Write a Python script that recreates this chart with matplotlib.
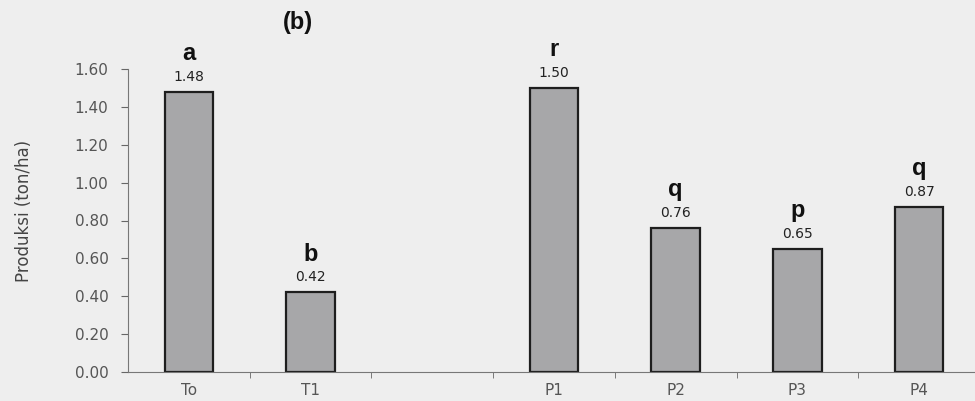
import numpy as np
import matplotlib.pyplot as plt

# Produksi per perlakuan (ton/ha)
categories = ["To", "T1", "", "P1", "P2", "P3", "P4"]
produksi = [1.48, 0.42, np.nan, 1.50, 0.76, 0.65, 0.87]
notasi = ["a", "b", "", "r", "q", "p", "q"]
yticks = [0.0, 0.2, 0.4, 0.6, 0.8, 1.0, 1.2, 1.4, 1.6]

plt.rcParams['font.family'] = ['DejaVu Sans']

fig = plt.figure(figsize=(9.75, 4.01), dpi=100, facecolor='#eeeeee')
ax = fig.add_axes([128 / 975, 29 / 401, 852 / 975, 303 / 401])
ax.set_facecolor('none')

x = np.arange(len(categories))
ax.bar(x, produksi, width=0.4, color='#a7a7a9', edgecolor='#1e1e1e', linewidth=1.6)

for xi, v, n in zip(x, produksi, notasi):
    if np.isnan(v):
        continue
    ax.annotate(f"{v:.2f}", (xi, v), xytext=(0, 8), textcoords='offset points',
                ha='center', va='baseline', fontsize=10, color='#222222')
    ax.annotate(n, (xi, v), xytext=(0, 23), textcoords='offset points',
                ha='center', va='baseline', fontsize=17, fontweight='bold',
                family='Liberation Sans', color='#111111')

ax.set_xlim(-0.5, len(categories) - 0.5)
ax.set_ylim(0, 1.6)
ax.set_yticks(yticks)
ax.set_yticklabels([f"{t:.2f}" for t in yticks], fontsize=11, color='#555555')
ax.set_xticks(x)
ax.set_xticklabels(categories, fontsize=11, color='#555555')
ax.set_xticks(x[:-1] + 0.5, minor=True)
ax.tick_params(axis='x', which='major', length=0, pad=8)
ax.tick_params(axis='x', which='minor', length=4, color='#666666', direction='out')
ax.tick_params(axis='y', length=5, color='#666666', direction='out', pad=9)

for s in ['top', 'right']:
    ax.spines[s].set_visible(False)
ax.spines['left'].set_color('#777777')
ax.spines['bottom'].set_color('#777777')

ax.set_ylabel("Produksi (ton/ha)", fontsize=12, color='#444444')
ax.yaxis.set_label_coords(-0.112, 0.53)
fig.text(298 / 975, 1 - 22 / 401, "(b)", fontsize=17, fontweight='bold',
         family='Liberation Sans', ha='center', va='center', color='#111111')

fig.savefig("out.png", dpi=100, facecolor=fig.get_facecolor())
